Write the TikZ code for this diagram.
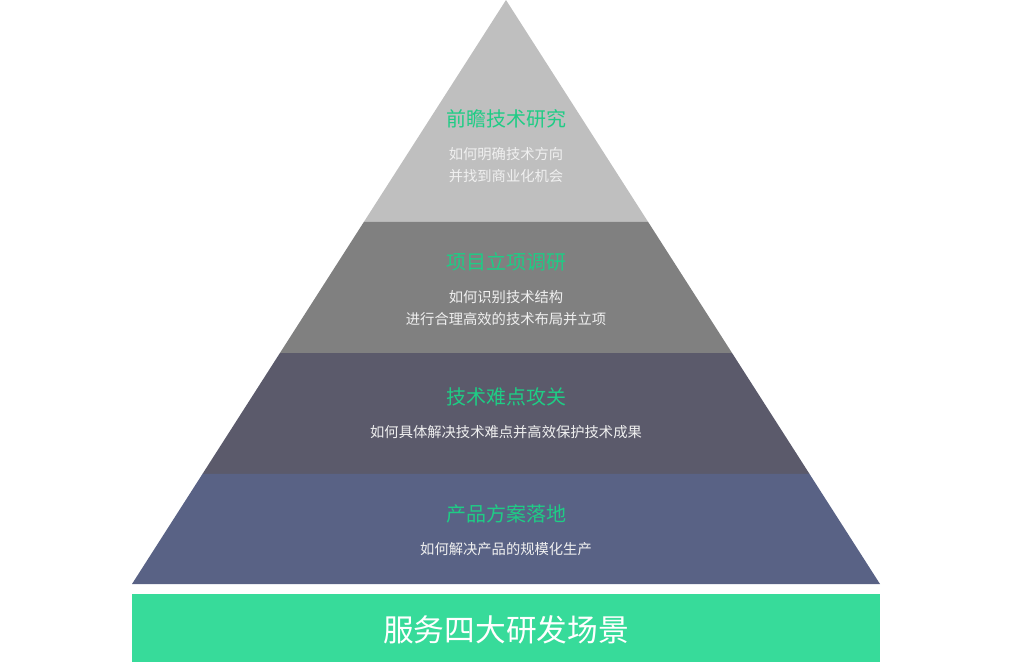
\documentclass[tikz,border=0pt]{standalone}
\usepackage{fontspec}
\usepackage{xcolor}
\usepackage{tikz}
\usetikzlibrary{calc}
\setmainfont{Noto Sans CJK SC}
\definecolor{layerone}{HTML}{BFBFBF}
\definecolor{layertwo}{HTML}{808080}
\definecolor{layerthree}{HTML}{5B5A6B}
\definecolor{layerfour}{HTML}{596285}
\definecolor{titlegreen}{HTML}{1FCC85}
\definecolor{bargreen}{HTML}{37DB9A}

\begin{document}
\begin{tikzpicture}[x=1pt, y=-1pt,
    layertitle/.style={text=titlegreen, font=\fontsize{20}{24}\selectfont, inner sep=0pt},
    layertext/.style={text=white!94!black, font=\fontsize{14.3}{22}\selectfont, align=center, inner sep=0pt}]
  \useasboundingbox (0,0) rectangle (1015,662);
  \coordinate (apex) at (506,0);
  \coordinate (bl) at (132,584);
  \coordinate (br) at (880,584);
  \coordinate (l1) at ($(apex)!0.3801!(bl)$);
  \coordinate (r1) at ($(apex)!0.3801!(br)$);
  \coordinate (l2) at ($(apex)!0.6045!(bl)$);
  \coordinate (r2) at ($(apex)!0.6045!(br)$);
  \coordinate (l3) at ($(apex)!0.8116!(bl)$);
  \coordinate (r3) at ($(apex)!0.8116!(br)$);
  % pyramid bands
  \fill[layerone] (apex) -- (r1) -- (l1) -- cycle;
  \fill[layertwo] (l1) -- (r1) -- (r2) -- (l2) -- cycle;
  \fill[layerthree] (l2) -- (r2) -- (r3) -- (l3) -- cycle;
  \fill[layerfour] (l3) -- (r3) -- (br) -- (bl) -- cycle;
  % texts
  \node[layertitle] (research) at (506,119) {前瞻技术研究};
  \node[layertext] (researchtext) at (506,165) {如何明确技术方向\\并找到商业化机会};
  \node[layertitle] (project) at (506,262) {项目立项调研};
  \node[layertext] (projecttext) at (506,308) {如何识别技术结构\\进行合理高效的技术布局并立项};
  \node[layertitle] (breakthrough) at (506,397) {技术难点攻关};
  \node[layertext] (breakthroughtext) at (506,432) {如何具体解决技术难点并高效保护技术成果};
  \node[layertitle] (product) at (506,514) {产品方案落地};
  \node[layertext] (producttext) at (506,549) {如何解决产品的规模化生产};
  % base bar
  \node[fill=bargreen, minimum width=748pt, minimum height=68pt, inner sep=0pt] (scenes) at (506,628) {};
  \node[text=white, font=\fontsize{30.7}{36}\selectfont, inner sep=0pt] (scenestext) at (506,630) {服务四大研发场景};
\end{tikzpicture}
\end{document}
